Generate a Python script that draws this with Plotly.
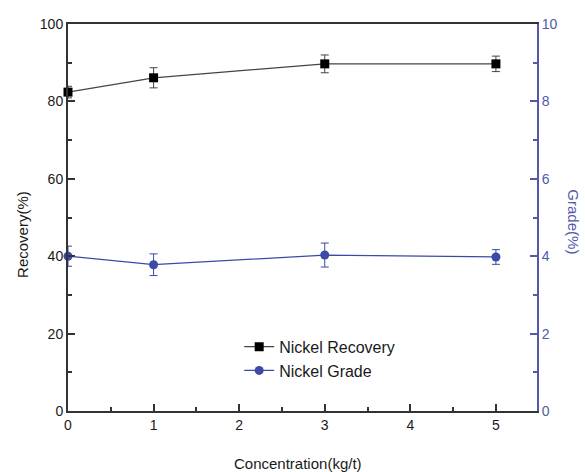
import plotly.graph_objects as go

conc = [0, 1, 3, 5]
recovery = [82.4, 86.1, 89.7, 89.7]
recovery_err = [1.5, 2.6, 2.3, 2.0]
grade = [4.0, 3.78, 4.03, 3.98]
grade_err = [0.26, 0.28, 0.31, 0.19]

x_ticks = [0, 1, 2, 3, 4, 5]
y_ticks = [0, 20, 40, 60, 80, 100]
y2_ticks = [0, 2, 4, 6, 8, 10]

BLACK = "#1a1a1a"
LINE_BLACK = "#444444"
BLUE = "#3b4aa6"
AXBLUE = "#4f5aa8"
FONT = "Liberation Sans"

fig = go.Figure()
fig.add_trace(go.Scatter(
    x=conc, y=recovery, name="Nickel Recovery", mode="lines+markers",
    line=dict(color=LINE_BLACK, width=1.2),
    marker=dict(symbol="square", size=9, color="black"),
    error_y=dict(type="data", array=recovery_err, color=LINE_BLACK, thickness=1, width=4),
    cliponaxis=False, yaxis="y"))
fig.add_trace(go.Scatter(
    x=conc, y=grade, name="Nickel Grade", mode="lines+markers",
    line=dict(color=BLUE, width=1.2),
    marker=dict(symbol="circle", size=9, color=BLUE),
    error_y=dict(type="data", array=grade_err, color=BLUE, thickness=1, width=4),
    cliponaxis=False, yaxis="y2"))

fig.update_layout(
    width=585, height=472,
    margin=dict(l=68, r=48, t=24, b=61, autoexpand=False),
    plot_bgcolor="white", paper_bgcolor="white",
    font=dict(family=FONT, size=14, color=BLACK),
    showlegend=True,
    legend=dict(x=0.365, y=0.21, xanchor="left", yanchor="top",
                font=dict(size=16, family=FONT, color=BLACK),
                bgcolor="rgba(0,0,0,0)", tracegroupgap=0, itemwidth=30),
    xaxis=dict(range=[0, 5.48], tickvals=x_ticks, showgrid=False, zeroline=False, automargin=False,
               showline=True, linecolor="#333333", linewidth=2, mirror=True,
               ticks="inside", ticklen=7, tickcolor="#333333", tickwidth=1.5,
               minor=dict(dtick=0.5, ticks="inside", ticklen=4, tickcolor="#333333", tickwidth=1.5),
               tickfont=dict(size=14, family=FONT, color=BLACK)),
    yaxis=dict(range=[0, 100], tickvals=y_ticks, showgrid=False, zeroline=False, automargin=False,
               showline=True, linecolor="#333333", linewidth=2,
               ticks="inside", ticklen=7, tickcolor="#333333", tickwidth=1.5,
               minor=dict(dtick=10, ticks="inside", ticklen=4, tickcolor="#333333", tickwidth=1.5),
               tickfont=dict(size=14, family=FONT, color=BLACK)),
    yaxis2=dict(range=[0, 10], tickvals=y2_ticks, overlaying="y", side="right", automargin=False,
                showgrid=False, zeroline=False,
                showline=True, linecolor=AXBLUE, linewidth=2,
                ticks="inside", ticklen=7, tickcolor=AXBLUE, tickwidth=1.5,
                minor=dict(dtick=1, ticks="inside", ticklen=4, tickcolor=AXBLUE, tickwidth=1.5),
                tickfont=dict(size=14, family=FONT, color=AXBLUE)),
)

fig.add_annotation(text="Concentration(kg/t)", xref="paper", yref="paper",
                   x=0.49, y=0, xanchor="center", yanchor="middle", yshift=-52,
                   showarrow=False, font=dict(size=15, family=FONT, color=BLACK))
fig.add_annotation(text="Recovery(%)", textangle=-90, xref="paper", yref="paper",
                   x=0, y=0.455, xanchor="center", yanchor="middle", xshift=-45,
                   showarrow=False, font=dict(size=15, family=FONT, color=BLACK))
fig.add_annotation(text="Grade(%)", textangle=90, xref="paper", yref="paper",
                   x=1.0, y=0.49, xanchor="center", yanchor="middle", xshift=37,
                   showarrow=False, font=dict(size=15, family=FONT, color=AXBLUE))

fig.write_html("out.html")
